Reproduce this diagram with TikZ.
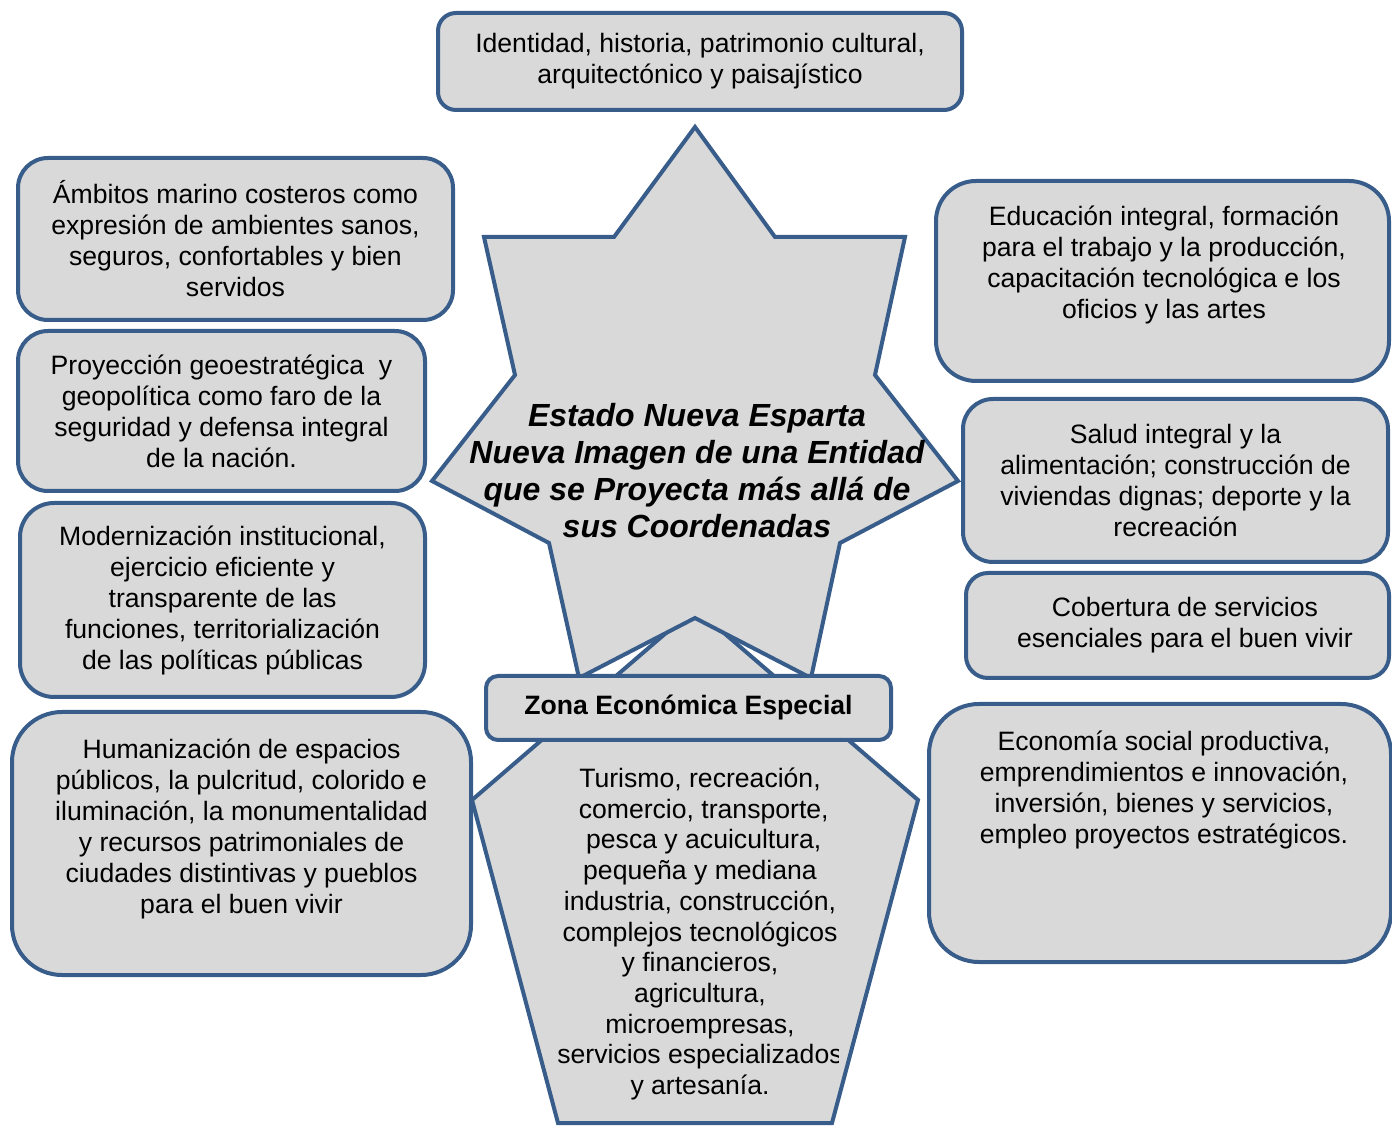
\documentclass[tikz,border=0pt]{standalone}
\usepackage{fontspec}
\setmainfont{Liberation Sans}
\definecolor{azul}{RGB}{56,93,138}
\definecolor{gris}{RGB}{217,217,217}

\begin{document}
\begin{tikzpicture}[x=0.5pt,y=-0.5pt,
  caja/.style={draw=azul,fill=gris,line width=2pt,align=center,inner sep=0pt,
    font=\fontsize{13.3}{15.5}\selectfont},
  texto/.style={align=center,inner sep=0pt,font=\fontsize{13.3}{15.5}\selectfont},
  forma/.style={draw=azul,fill=gris,line width=2pt,line join=miter}]
  \useasboundingbox (0,0) rectangle (1392,1127);
  % pentagono de la zona economica
  \draw[forma] (695,608) -- (472,800) -- (558,1123) -- (832,1123) -- (918,800) -- cycle;
  % estrella central
  \draw[forma] (695,127) -- (614,237) -- (484,237) -- (515,375) -- (432,481)
    -- (549,543) -- (579,678) -- (695,618) -- (811,678) -- (840,543)
    -- (958,481) -- (875,375) -- (905,237) -- (775,237) -- cycle;
  \node[texto,font=\fontsize{16}{18.5}\selectfont\bfseries\itshape] (Centro) at (697,471) {
    Estado Nueva Esparta\\
    Nueva Imagen de una Entidad\\
    que se Proyecta más allá de\\
    sus Coordenadas};
  \begin{scope}
    \clip (540,750) rectangle (838,1110);
    \node[texto,font=\fontsize{13.3}{15.35}\selectfont] (ZonaTxt) at (700,934) {
      Turismo, recreación,\\
      \ comercio, transporte,\\
      \ pesca y acuicultura,\\
      pequeña y mediana\\
      industria, construcción,\\
      complejos tecnológicos\\
      y financieros,\\
      agricultura,\\
      microempresas,\\
      servicios especializados\\
      y artesanía.};
  \end{scope}

  \node[caja,rounded corners=9pt,minimum width=262pt,minimum height=48.5pt] (Ident) at (700,61.5) {
    Identidad, historia, patrimonio cultural,\\
    arquitectónico y paisajístico};
  \node[caja,rounded corners=15pt,minimum width=217.5pt,minimum height=81pt] (Ambitos) at (235.5,239) {
    Ámbitos marino costeros como\\
    expresión de ambientes sanos,\\
    seguros, confortables y bien\\
    servidos};
  \node[caja,rounded corners=15pt,minimum width=203.5pt,minimum height=80pt] (Proy) at (221.5,411) {
    Proyección geoestratégica\ \ y\\
    geopolítica como faro de la\\
    seguridad y defensa integral\\
    de la nación.};
  \node[caja,rounded corners=17pt,minimum width=202.5pt,minimum height=97pt] (Moder) at (222.5,600) {
    Modernización institucional,\\
    ejercicio eficiente y\\
    transparente de las\\
    funciones, territorialización\\
    de las políticas públicas};
  \node[caja,rounded corners=25pt,minimum width=229.5pt,minimum height=131.5pt] (Human) at (241.5,843.5) {};
  \node[texto] (HumanTxt) at (241.5,829) {
    Humanización de espacios\\
    públicos, la pulcritud, colorido e\\
    iluminación, la monumentalidad\\
    y recursos patrimoniales de\\
    ciudades distintivas y pueblos\\
    para el buen vivir};
  \node[caja,rounded corners=20pt,minimum width=226.5pt,minimum height=100pt] (Educ) at (1162.5,281) {};
  \node[texto] (EducTxt) at (1164,265) {
    Educación integral, formación\\
    para el trabajo y la producción,\\
    capacitación tecnológica e los\\
    oficios y las artes};
  \node[caja,rounded corners=15pt,minimum width=212.5pt,minimum height=81.5pt] (Salud) at (1175.5,480.5) {
    Salud integral y la\\
    alimentación; construcción de\\
    viviendas dignas; deporte y la\\
    recreación};
  \node[caja,rounded corners=11pt,minimum width=211.5pt,minimum height=52.5pt] (Cobert) at (1177.5,625.5) {
    \ \ Cobertura de servicios\\
    \ \ esenciales para el buen vivir};
  \node[caja,rounded corners=25pt,minimum width=231pt,minimum height=129pt] (Econ) at (1160,833) {};
  \node[texto] (EconTxt) at (1164,790) {
    Economía social productiva,\\
    emprendimientos e innovación,\\
    inversión, bienes y servicios,\\
    empleo proyectos estratégicos.};
  \node[caja,rounded corners=6pt,minimum width=202.5pt,minimum height=32pt,font=\fontsize{13.3}{15.5}\selectfont\bfseries] (Zona) at (688.5,708) {
    Zona Económica Especial};
\end{tikzpicture}
\end{document}
